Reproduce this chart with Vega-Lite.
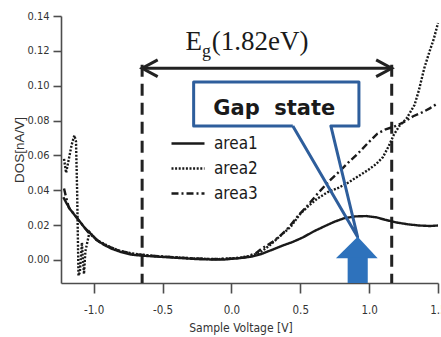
{
  "$schema": "https://vega.github.io/schema/vega-lite/v6.json",
  "autosize": {"type": "none"},
  "padding": {"left": 61, "top": 16, "right": 3, "bottom": 54},
  "width": 377,
  "height": 267,
  "config": {
    "view": {"stroke": null},
    "background": "white",
    "axis": {"labelOverlap": false, "labelBound": false}
  },
  "datasets": {
    "curves": [
      {"series": "area1", "v": -1.22, "dos": 0.036},
      {"series": "area1", "v": -1.2, "dos": 0.033},
      {"series": "area1", "v": -1.17, "dos": 0.029},
      {"series": "area1", "v": -1.14, "dos": 0.026},
      {"series": "area1", "v": -1.1, "dos": 0.022},
      {"series": "area1", "v": -1.06, "dos": 0.018},
      {"series": "area1", "v": -1.02, "dos": 0.015},
      {"series": "area1", "v": -0.97, "dos": 0.011},
      {"series": "area1", "v": -0.92, "dos": 0.0085},
      {"series": "area1", "v": -0.87, "dos": 0.0065},
      {"series": "area1", "v": -0.8, "dos": 0.0045},
      {"series": "area1", "v": -0.72, "dos": 0.003},
      {"series": "area1", "v": -0.65, "dos": 0.0025},
      {"series": "area1", "v": -0.55, "dos": 0.002},
      {"series": "area1", "v": -0.45, "dos": 0.0015},
      {"series": "area1", "v": -0.35, "dos": 0.001},
      {"series": "area1", "v": -0.25, "dos": 0.0005},
      {"series": "area1", "v": -0.15, "dos": 0.0003},
      {"series": "area1", "v": -0.05, "dos": 0.0003},
      {"series": "area1", "v": 0.05, "dos": 0.001},
      {"series": "area1", "v": 0.15, "dos": 0.002},
      {"series": "area1", "v": 0.22, "dos": 0.0035},
      {"series": "area1", "v": 0.3, "dos": 0.006},
      {"series": "area1", "v": 0.38, "dos": 0.0085},
      {"series": "area1", "v": 0.45, "dos": 0.0105},
      {"series": "area1", "v": 0.52, "dos": 0.013},
      {"series": "area1", "v": 0.6, "dos": 0.0165},
      {"series": "area1", "v": 0.68, "dos": 0.0195},
      {"series": "area1", "v": 0.75, "dos": 0.022},
      {"series": "area1", "v": 0.82, "dos": 0.024},
      {"series": "area1", "v": 0.9, "dos": 0.025},
      {"series": "area1", "v": 0.98, "dos": 0.0252},
      {"series": "area1", "v": 1.05, "dos": 0.0245},
      {"series": "area1", "v": 1.12, "dos": 0.023},
      {"series": "area1", "v": 1.2, "dos": 0.0215},
      {"series": "area1", "v": 1.28, "dos": 0.0205},
      {"series": "area1", "v": 1.36, "dos": 0.0198},
      {"series": "area1", "v": 1.44, "dos": 0.0195},
      {"series": "area1", "v": 1.5, "dos": 0.0198},

      {"series": "area2", "v": -1.215, "dos": 0.058},
      {"series": "area2", "v": -1.2, "dos": 0.05},
      {"series": "area2", "v": -1.185, "dos": 0.056},
      {"series": "area2", "v": -1.16, "dos": 0.066},
      {"series": "area2", "v": -1.14, "dos": 0.0715},
      {"series": "area2", "v": -1.128, "dos": 0.068},
      {"series": "area2", "v": -1.12, "dos": 0.04},
      {"series": "area2", "v": -1.115, "dos": 0.015},
      {"series": "area2", "v": -1.11, "dos": -0.009},
      {"series": "area2", "v": -1.1, "dos": -0.007},
      {"series": "area2", "v": -1.085, "dos": 0.01},
      {"series": "area2", "v": -1.078, "dos": 0.0},
      {"series": "area2", "v": -1.07, "dos": -0.008},
      {"series": "area2", "v": -1.06, "dos": 0.005},
      {"series": "area2", "v": -1.03, "dos": 0.016},
      {"series": "area2", "v": -0.98, "dos": 0.0115},
      {"series": "area2", "v": -0.93, "dos": 0.0095},
      {"series": "area2", "v": -0.87, "dos": 0.007},
      {"series": "area2", "v": -0.8, "dos": 0.005},
      {"series": "area2", "v": -0.7, "dos": 0.0035},
      {"series": "area2", "v": -0.55, "dos": 0.0022},
      {"series": "area2", "v": -0.4, "dos": 0.0015},
      {"series": "area2", "v": -0.25, "dos": 0.0008},
      {"series": "area2", "v": -0.1, "dos": 0.0005},
      {"series": "area2", "v": 0.05, "dos": 0.0012},
      {"series": "area2", "v": 0.15, "dos": 0.0025},
      {"series": "area2", "v": 0.22, "dos": 0.005},
      {"series": "area2", "v": 0.28, "dos": 0.0085},
      {"series": "area2", "v": 0.35, "dos": 0.0135},
      {"series": "area2", "v": 0.43, "dos": 0.019},
      {"series": "area2", "v": 0.5, "dos": 0.0265},
      {"series": "area2", "v": 0.56, "dos": 0.031},
      {"series": "area2", "v": 0.62, "dos": 0.035},
      {"series": "area2", "v": 0.7, "dos": 0.039},
      {"series": "area2", "v": 0.78, "dos": 0.0415},
      {"series": "area2", "v": 0.85, "dos": 0.0445},
      {"series": "area2", "v": 0.92, "dos": 0.048},
      {"series": "area2", "v": 0.99, "dos": 0.0515},
      {"series": "area2", "v": 1.05, "dos": 0.055},
      {"series": "area2", "v": 1.1, "dos": 0.059},
      {"series": "area2", "v": 1.14, "dos": 0.065},
      {"series": "area2", "v": 1.18, "dos": 0.072},
      {"series": "area2", "v": 1.22, "dos": 0.077},
      {"series": "area2", "v": 1.27, "dos": 0.081},
      {"series": "area2", "v": 1.3, "dos": 0.085},
      {"series": "area2", "v": 1.33, "dos": 0.089},
      {"series": "area2", "v": 1.36, "dos": 0.097},
      {"series": "area2", "v": 1.4, "dos": 0.11},
      {"series": "area2", "v": 1.44, "dos": 0.12},
      {"series": "area2", "v": 1.47, "dos": 0.127},
      {"series": "area2", "v": 1.5, "dos": 0.136},

      {"series": "area3", "v": -1.215, "dos": 0.041},
      {"series": "area3", "v": -1.2, "dos": 0.036},
      {"series": "area3", "v": -1.18, "dos": 0.03},
      {"series": "area3", "v": -1.15, "dos": 0.027},
      {"series": "area3", "v": -1.12, "dos": 0.024},
      {"series": "area3", "v": -1.08, "dos": 0.02},
      {"series": "area3", "v": -1.04, "dos": 0.016},
      {"series": "area3", "v": -1.0, "dos": 0.013},
      {"series": "area3", "v": -0.95, "dos": 0.01},
      {"series": "area3", "v": -0.9, "dos": 0.008},
      {"series": "area3", "v": -0.82, "dos": 0.0055},
      {"series": "area3", "v": -0.72, "dos": 0.0035},
      {"series": "area3", "v": -0.6, "dos": 0.0025},
      {"series": "area3", "v": -0.45, "dos": 0.0018},
      {"series": "area3", "v": -0.3, "dos": 0.001},
      {"series": "area3", "v": -0.15, "dos": 0.0005},
      {"series": "area3", "v": 0.0, "dos": 0.0008},
      {"series": "area3", "v": 0.1, "dos": 0.0015},
      {"series": "area3", "v": 0.18, "dos": 0.004},
      {"series": "area3", "v": 0.22, "dos": 0.0065},
      {"series": "area3", "v": 0.3, "dos": 0.0105},
      {"series": "area3", "v": 0.36, "dos": 0.0143},
      {"series": "area3", "v": 0.42, "dos": 0.019},
      {"series": "area3", "v": 0.48, "dos": 0.025},
      {"series": "area3", "v": 0.55, "dos": 0.031},
      {"series": "area3", "v": 0.62, "dos": 0.0375},
      {"series": "area3", "v": 0.7, "dos": 0.0445},
      {"series": "area3", "v": 0.78, "dos": 0.0505},
      {"series": "area3", "v": 0.85, "dos": 0.056},
      {"series": "area3", "v": 0.92, "dos": 0.0612},
      {"series": "area3", "v": 0.99, "dos": 0.067},
      {"series": "area3", "v": 1.06, "dos": 0.0725},
      {"series": "area3", "v": 1.12, "dos": 0.075},
      {"series": "area3", "v": 1.18, "dos": 0.0765},
      {"series": "area3", "v": 1.25, "dos": 0.079},
      {"series": "area3", "v": 1.32, "dos": 0.0825},
      {"series": "area3", "v": 1.38, "dos": 0.0845},
      {"series": "area3", "v": 1.44, "dos": 0.087},
      {"series": "area3", "v": 1.5, "dos": 0.09}
    ],
    "vlines": [
      {"v": -0.648, "dos": 0.112, "dos2": -0.0132},
      {"v": 1.164, "dos": 0.112, "dos2": -0.0132}
    ],
    "harrow": [{"v": -0.648, "v2": 1.164, "dos": 0.11}],
    "heads": [
      {"side": "L", "i": 0, "v": -0.535, "dos": 0.1148},
      {"side": "L", "i": 1, "v": -0.648, "dos": 0.11},
      {"side": "L", "i": 2, "v": -0.535, "dos": 0.1052},
      {"side": "R", "i": 0, "v": 1.051, "dos": 0.1148},
      {"side": "R", "i": 1, "v": 1.164, "dos": 0.11},
      {"side": "R", "i": 2, "v": 1.051, "dos": 0.1052}
    ],
    "eg_big": [
      {"v": -0.333, "dos": 0.1205, "t": "E"},
      {"v": -0.143, "dos": 0.1205, "t": "(1.82eV)"}
    ],
    "eg_sub": [{"v": -0.2125, "dos": 0.1165, "t": "g"}],
    "box": [{"v": -0.274, "v2": 0.926, "dos": 0.0769, "dos2": 0.1021}],
    "callout": [
      {"i": 0, "v": 0.446, "dos": 0.0769},
      {"i": 1, "v": 0.9165, "dos": 0.0132},
      {"i": 2, "v": 0.722, "dos": 0.0769},
      {"i": 3, "v": 0.926, "dos": 0.0769},
      {"i": 4, "v": 0.926, "dos": 0.1021},
      {"i": 5, "v": -0.274, "dos": 0.1021},
      {"i": 6, "v": -0.274, "dos": 0.0769},
      {"i": 7, "v": 0.446, "dos": 0.0769}
    ],
    "gap": [{"v": 0.3115, "dos": 0.083, "t": "Gap\u00a0\u00a0state"}],
    "ahead": [
      {"v": 0.759, "dos": 0.001, "dos2": 0.001},
      {"v": 0.917, "dos": 0.0134, "dos2": 0.001},
      {"v": 1.062, "dos": 0.001, "dos2": 0.001}
    ],
    "shaft": [{"v": 0.844, "v2": 0.99, "dos": -0.0132, "dos2": 0.0012}]
  },
  "encoding": {
    "x": {"field": "v", "type": "quantitative",
      "scale": {"domain": [-1.237, 1.5], "nice": false, "zero": false},
      "axis": {
        "values": [-1, -0.5, 0, 0.5, 1, 1.5],
        "labelExpr": "datum.value < 0 ? '-' + format(-datum.value, '.1f') : format(datum.value, '.1f')",
        "title": "Sample Voltage [V]",
        "grid": false,
        "labelOverlap": false,
        "domainColor": "#4d4d4d", "domainWidth": 1.6,
        "tickColor": "#4d4d4d", "tickWidth": 1.6, "tickSize": 10,
        "labelFont": "DejaVu Sans Condensed, sans-serif",
        "labelFontSize": 11.5, "labelColor": "#333333", "labelPadding": 11,
        "labelFlush": false,
        "titleFont": "DejaVu Sans Condensed, sans-serif",
        "titleFontSize": 12, "titleFontWeight": "normal", "titleColor": "#333333",
        "titlePadding": 7, "titleX": 179.5, "titleAnchor": null
      }
    },
    "y": {"field": "dos", "type": "quantitative",
      "scale": {"domain": [-0.0132, 0.14], "nice": false, "zero": false},
      "axis": {
        "values": [0, 0.02, 0.04, 0.06, 0.08, 0.1, 0.12, 0.14],
        "format": ".2f",
        "title": "DOS[nA/V]",
        "grid": false,
        "labelOverlap": false,
        "domainColor": "#4d4d4d", "domainWidth": 1.6,
        "tickColor": "#4d4d4d", "tickWidth": 1.6, "tickSize": 8,
        "labelFont": "DejaVu Sans Condensed, sans-serif",
        "labelFontSize": 11, "labelColor": "#333333", "labelPadding": 4,
        "labelFlush": false,
        "titleFont": "Liberation Sans, Arial, sans-serif",
        "titleFontSize": 13.5, "titleFontWeight": "normal", "titleColor": "#333333",
        "titlePadding": 0
      }
    }
  },
  "layer": [
    {
      "data": {"name": "vlines"},
      "mark": {"type": "rule", "color": "#222222", "strokeWidth": 3, "strokeDash": [12, 7]},
      "encoding": {"y2": {"field": "dos2"}}
    },
    {
      "data": {"name": "harrow"},
      "mark": {"type": "rule", "color": "#222222", "strokeWidth": 3},
      "encoding": {"x2": {"field": "v2"}}
    },
    {
      "data": {"name": "heads"},
      "mark": {"type": "line", "color": "#222222", "strokeWidth": 3, "strokeJoin": "miter"},
      "encoding": {
        "detail": {"field": "side"},
        "order": {"field": "i", "type": "quantitative"}
      }
    },
    {
      "data": {"name": "curves"},
      "mark": {"type": "line", "color": "#1a1a1a", "strokeWidth": 2.4},
      "encoding": {
        "strokeDash": {
          "field": "series", "type": "nominal",
          "scale": {"domain": ["area1", "area2", "area3"], "range": [[1, 0], [2, 1.6], [7, 3, 2, 3]]},
          "legend": {
            "title": null,
            "orient": "none",
            "legendX": 109,
            "legendY": 115,
            "padding": 0,
            "symbolType": "stroke",
            "symbolSize": 1089,
            "symbolStrokeWidth": 2.5,
            "symbolStrokeColor": "#1a1a1a",
            "clipHeight": 25,
            "rowPadding": 0,
            "labelFont": "DejaVu Sans Condensed, sans-serif",
            "labelFontSize": 17,
            "labelColor": "#1a1a1a",
            "labelOffset": 8
          }
        }
      }
    },
    {
      "data": {"name": "eg_big"},
      "mark": {"type": "text", "align": "left", "baseline": "alphabetic", "font": "Liberation Serif, serif", "fontSize": 27, "color": "#1a1a1a"},
      "encoding": {"text": {"field": "t"}}
    },
    {
      "data": {"name": "eg_sub"},
      "mark": {"type": "text", "align": "left", "baseline": "alphabetic", "font": "Liberation Serif, serif", "fontSize": 18, "color": "#1a1a1a"},
      "encoding": {"text": {"field": "t"}}
    },
    {
      "data": {"name": "box"},
      "mark": {"type": "rect", "fill": "white"},
      "encoding": {"x2": {"field": "v2"}, "y2": {"field": "dos2"}}
    },
    {
      "data": {"name": "callout"},
      "mark": {"type": "line", "color": "#2E5E9C", "strokeWidth": 3, "strokeJoin": "round"},
      "encoding": {"order": {"field": "i", "type": "quantitative"}}
    },
    {
      "data": {"name": "gap"},
      "mark": {"type": "text", "align": "center", "baseline": "alphabetic", "font": "DejaVu Sans, sans-serif", "fontWeight": "bold", "fontSize": 21, "color": "#1a1a1a"},
      "encoding": {"text": {"field": "t"}}
    },
    {
      "data": {"name": "ahead"},
      "mark": {"type": "area", "color": "#2E72BC"},
      "encoding": {"y2": {"field": "dos2"}}
    },
    {
      "data": {"name": "shaft"},
      "mark": {"type": "rect", "color": "#2E72BC"},
      "encoding": {"x2": {"field": "v2"}, "y2": {"field": "dos2"}}
    }
  ]
}
